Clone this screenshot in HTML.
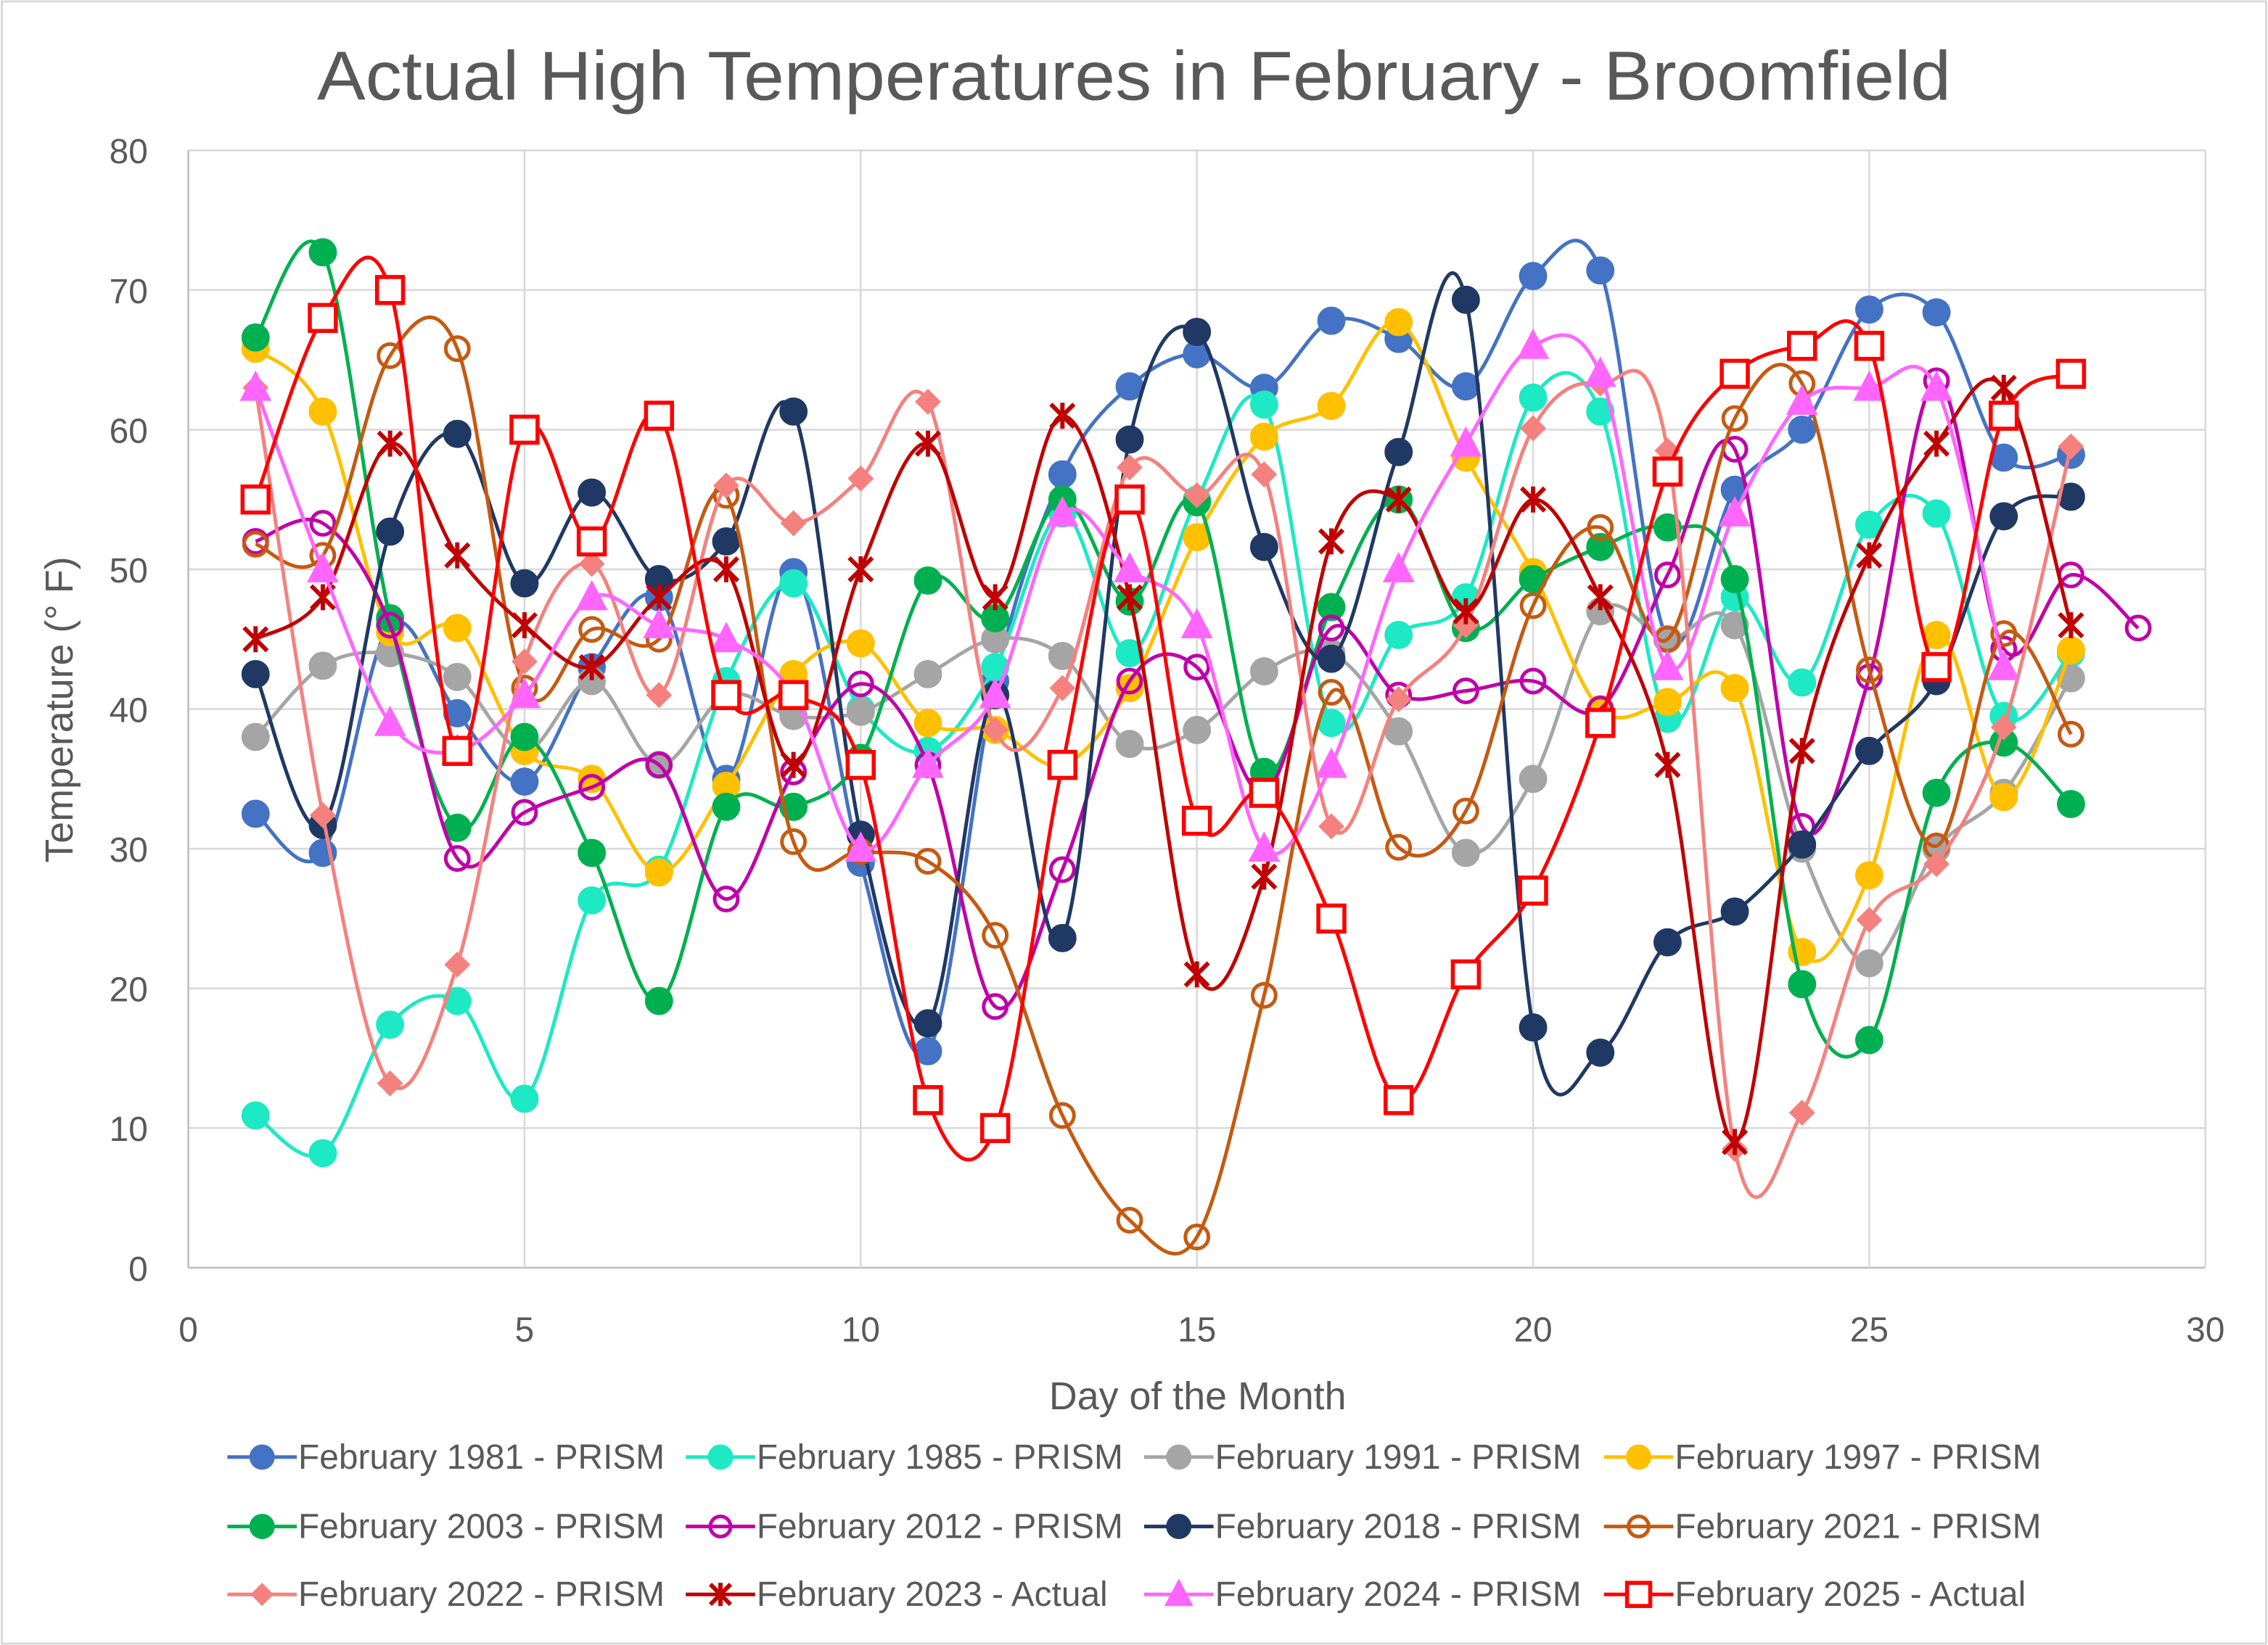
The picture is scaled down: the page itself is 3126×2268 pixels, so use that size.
<!DOCTYPE html>
<html><head><meta charset="utf-8"><style>
html,body{margin:0;padding:0;background:#fff}
svg{display:block}
text{font-family:"Liberation Sans",sans-serif;fill:#595959}
</style></head><body>
<svg id="chart" width="3126" height="2268" viewBox="0 0 1568 1138" xmlns="http://www.w3.org/2000/svg">
<rect x="1" y="1" width="1566" height="1136" fill="#fff" stroke="#d9d9d9" stroke-width="1.5"/>
<text x="784" y="69" font-size="48" text-anchor="middle" textLength="1130" lengthAdjust="spacingAndGlyphs">Actual High Temperatures in February - Broomfield</text>
<g id="grid"></g>
<g id="ticks"></g>
<text x="828" y="975" font-size="27" text-anchor="middle">Day of the Month</text>
<text transform="translate(50,491) rotate(-90)" font-size="27" text-anchor="middle">Temperature (° F)</text>
<g id="series"></g>
<g id="legend"></g>
</svg>
<script>
const xTicks=[0,5,10,15,20,25,30];
const yTicks=[0,10,20,30,40,50,60,70,80];
const names=["February 1981 - PRISM","February 1985 - PRISM","February 1991 - PRISM","February 1997 - PRISM","February 2003 - PRISM","February 2012 - PRISM","February 2018 - PRISM","February 2021 - PRISM","February 2022 - PRISM","February 2023 - Actual","February 2024 - PRISM","February 2025 - Actual"];
const s1981=[32.5,29.7,46,39.7,34.8,43,48,35,49.8,29,15.5,42,56.8,63.1,65.4,63,67.8,66.5,63.1,71,71.4,45,55.7,60,68.6,68.4,58,58.2];
const s1985=[10.9,8.2,17.4,19.1,12.1,26.3,28.5,42,49,40,37,43,54,44,55,61.8,39,45.3,48,62.3,61.3,39.3,48,41.9,53.2,54,39.5,44];
const s1991=[38,43.1,44,42.3,37,42,36,41,39.5,39.8,42.5,45,43.8,37.5,38.5,42.7,44,38.4,29.7,35,47,45,46,30,21.8,30,34,42.2];
const s1997=[65.8,61.3,45.5,45.8,37,35,28.3,34.5,42.5,44.7,39,38.5,36,41.5,52.3,59.5,61.7,67.7,58,49.8,40,40.5,41.5,22.6,28.1,45.3,33.7,44.2];
const s2003=[66.6,72.7,46.5,31.5,38,29.7,19.1,33,33,36.5,49.2,46.5,55,47.7,54.8,35.5,47.3,55,45.8,49.3,51.6,53,49.3,20.3,16.3,34,37.6,33.2];
const s2012=[52,53.3,46,29.3,32.6,34.4,36,26.4,35.5,41.8,36,18.7,28.5,42,43,34,45.8,41,41.3,42,40,49.6,58.6,31.6,42.3,63.5,44.3,49.6,45.8];
const s2018=[42.5,31.7,52.7,59.7,49,55.5,49.3,52,61.3,31,17.5,41,23.6,59.3,67,51.6,43.6,58.4,69.3,17.2,15.4,23.3,25.5,30.3,37,42,53.8,55.2];
const s2021=[51.8,51,65.3,65.8,41.5,45.7,45,55.3,30.5,29.8,29.1,23.8,10.9,3.4,2.2,19.5,41.2,30.1,32.7,47.4,53,45,60.8,63.3,42.8,30.2,45.4,38.2];
const s2022=[63,32.4,13.2,21.7,43.4,50.4,41,56,53.3,56.5,62,38.5,41.5,57.3,55.3,56.8,31.6,40.7,46,60.1,63.3,58.5,8.5,11.1,24.9,28.9,38.7,58.8];
const s2023=[45,48,59,51,46,43,48,50,36,50,59,48,61,48,21,28,52,55,47,55,48,36,9,37,51,59,63,46];
const s2024=[63,50,39,37,41,48,46,45,41,30,36,41,54,50,46,30,36,50,59,66,64,43,54,62,63,63,43];
const s2025=[55,68,70,37,60,52,61,41,41,36,12,10,36,55,32,34,25,12,21,27,39,57,64,66,66,43,61,64];
const allSeries=[s1981,s1985,s1991,s1997,s2003,s2012,s2018,s2021,s2022,s2023,s2024,s2025];
const colors=["#4472C4","#1DE9C4","#A5A5A5","#FFC000","#00B050","#C000A8","#203864","#C55A11","#F4817E","#C00000","#FF66FF","#FF0000"];
const markers=["circle","circle","circle","circle","circle","ring","circle","ring","diamond","star","triangle","square"];
const NS="http://www.w3.org/2000/svg";
const X0=130,X1=1525,Y0=877,Y1=104;
const xs=d=>X0+(d-xTicks[0])/(xTicks[xTicks.length-1]-xTicks[0])*(X1-X0);
const ys=v=>Y0-(v-yTicks[0])/(yTicks[yTicks.length-1]-yTicks[0])*(Y0-Y1);
function mk(tag,attrs,parent){const e=document.createElementNS(NS,tag);for(const k in attrs)e.setAttribute(k,attrs[k]);parent.appendChild(e);return e;}
const grid=document.getElementById('grid'),ticks=document.getElementById('ticks');
yTicks.forEach(v=>{
 const l=mk('line',{x1:X0,x2:X1,y1:ys(v),y2:ys(v),stroke:v===0?'#bfbfbf':'#d9d9d9','stroke-width':1.3},grid);
 
 
 const t=mk('text',{x:102,y:ys(v)+9,'font-size':24,'text-anchor':'end'},ticks);t.textContent=v;
 
 
});
xTicks.forEach(d=>{
 const l=mk('line',{x1:xs(d),x2:xs(d),y1:Y1,y2:Y0,stroke:d===0?'#bfbfbf':'#d9d9d9','stroke-width':1.3},grid);
 
 
 const t=mk('text',{x:xs(d),y:928,'font-size':24,'text-anchor':'middle'},ticks);t.textContent=d;
 
 
});
function smooth(p){
 let d=`M${p[0][0]},${p[0][1]}`;
 for(let i=0;i<p.length-1;i++){
  const a=p[i-1]||p[i],b=p[i],c=p[i+1],e=p[i+2]||c;
  d+=` C${b[0]+(c[0]-a[0])/6},${b[1]+(c[1]-a[1])/6} ${c[0]-(e[0]-b[0])/6},${c[1]-(e[1]-b[1])/6} ${c[0]},${c[1]}`;
 }
 return d;
}
function marker(type,x,y,col,parent,size){
 const r=size||9;let e;
 if(type==='circle')e=mk('circle',{cx:x,cy:y,r:r,fill:col,stroke:col,'stroke-width':1.5},parent);
 else if(type==='ring')e=mk('circle',{cx:x,cy:y,r:r-1,fill:'none',stroke:col,'stroke-width':2.5},parent);
 else if(type==='diamond')e=mk('path',{d:`M${x},${y-r}L${x+r},${y}L${x},${y+r}L${x-r},${y}Z`,fill:col},parent);
 else if(type==='triangle')e=mk('path',{d:`M${x},${y-r-3}L${x+r+2},${y+r}L${x-r-2},${y+r}Z`,fill:col},parent);
 else if(type==='square')e=mk('rect',{x:x-r,y:y-r,width:2*r,height:2*r,fill:'#fff',stroke:col,'stroke-width':2.8},parent);
 else e=mk('path',{d:`M${x-r+1},${y-r+1}L${x+r-1},${y+r-1}M${x+r-1},${y-r+1}L${x-r+1},${y+r-1}M${x},${y-r}L${x},${y+r}`,stroke:col,'stroke-width':3,fill:'none'},parent);
 return e;
}
const sg=document.getElementById('series');
allSeries.forEach((s,i)=>{
 const g=mk('g',{},sg);
 
 
 const pts=s.map((v,j)=>[xs(j+1),ys(v)]);
 const path=mk('path',{d:smooth(pts),fill:'none',stroke:colors[i],'stroke-width':2.5},g);
 
 
 pts.forEach(p=>{
  const m=marker(markers[i],p[0],p[1],colors[i],g);
  
  
 });
});
const lg=document.getElementById('legend');
const colX=[157,474,791,1109],rowY=[1008,1056,1103];
names.forEach((n,i)=>{
 const x=colX[i%4],y=rowY[Math.floor(i/4)];
 const g=mk('g',{},lg);
 
 
 mk('line',{x1:x,x2:x+48,y1:y,y2:y,stroke:colors[i],'stroke-width':2.5},g);
 marker(markers[i],x+24,y,colors[i],g,8);
 const t=mk('text',{x:x+49,y:y+8,'font-size':24},g);t.textContent=n;
});
</script>
</body></html>
